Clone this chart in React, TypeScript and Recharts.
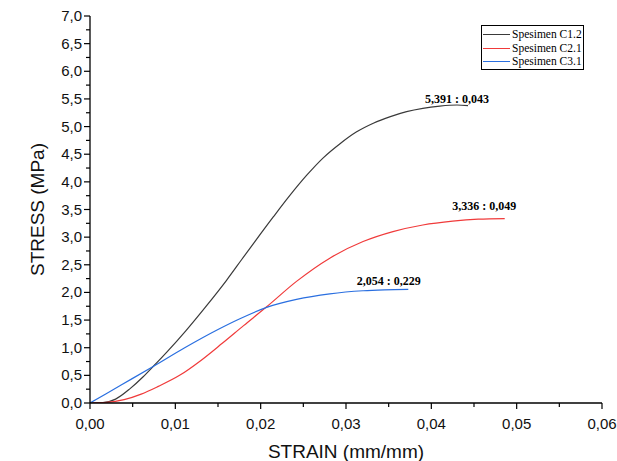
import { LineChart, Line, XAxis, YAxis, Legend, ReferenceDot, Label } from "recharts";

// 시편별 응력-변형률 곡선 (Origin 그래프 재현)
const SERIES_NAMES = ["Spesimen C1.2", "Spesimen C2.1", "Spesimen C3.1"];
const SERIES_COLORS = ["#3a3a3a", "#f03a3a", "#2a6fe0"];

const c12Strain = [0, 0.0015, 0.003, 0.0047, 0.0062, 0.0074, 0.009, 0.01125, 0.0135, 0.016, 0.0178, 0.0193, 0.0215, 0.0234, 0.0254, 0.0273, 0.0293, 0.0312, 0.0332, 0.0352, 0.0371, 0.039, 0.041, 0.043, 0.0443];
const c12Stress = [0, 0.005, 0.07, 0.26, 0.47, 0.66, 0.92, 1.31, 1.73, 2.22, 2.6, 2.915, 3.37, 3.75, 4.12, 4.43, 4.69, 4.9, 5.06, 5.18, 5.27, 5.33, 5.37, 5.39, 5.38];

const c21Strain = [0, 0.002, 0.004, 0.006, 0.008, 0.0105, 0.013, 0.0155, 0.018, 0.0207, 0.0242, 0.0281, 0.032, 0.0355, 0.039, 0.0425, 0.0455, 0.0486];
const c21Stress = [0, 0.01, 0.06, 0.16, 0.3, 0.5, 0.77, 1.08, 1.4, 1.74, 2.2, 2.62, 2.92, 3.1, 3.22, 3.29, 3.325, 3.336];

const c31Strain = [0, 0.0037, 0.0074, 0.0111, 0.015, 0.0175, 0.0207, 0.0242, 0.0281, 0.032, 0.0345, 0.0373];
const c31Stress = [0, 0.33, 0.66, 1.0, 1.33, 1.52, 1.73, 1.875, 1.975, 2.03, 2.046, 2.054];

// 피크 주석 (라벨 기준점: strain, stress)
const PEAK_LABELS = ["5,391 : 0,043", "3,336 : 0,049", "2,054 : 0,229"];
const PEAK_STRAIN = [0.043, 0.0462, 0.035];
const PEAK_STRESS = [5.435, 3.49, 2.143];

const X_TICKS = [0, 0.005, 0.01, 0.015, 0.02, 0.025, 0.03, 0.035, 0.04, 0.045, 0.05, 0.055, 0.06];
const Y_TICKS = [0, 0.25, 0.5, 0.75, 1, 1.25, 1.5, 1.75, 2, 2.25, 2.5, 2.75, 3, 3.25, 3.5, 3.75, 4, 4.25, 4.5, 4.75, 5, 5.25, 5.5, 5.75, 6, 6.25, 6.5, 6.75, 7];

const zip = (xs: number[], ys: number[]) => xs.map((x, i) => ({ x, y: ys[i] }));
const seriesData = [zip(c12Strain, c12Stress), zip(c21Strain, c21Stress), zip(c31Strain, c31Stress)];

const SANS = '"Liberation Sans", Arial, sans-serif';
const SERIF = '"Liberation Serif", "Times New Roman", serif';

function XTick(props: any) {
  const { x, y, payload, index } = props;
  const major = index % 2 === 0;
  return (
    <g>
      <line x1={x} x2={x} y1={y} y2={y + (major ? 6 : 4)} stroke="#000" strokeWidth={1.2} />
      {major && (
        <text x={x} y={y + 26} textAnchor="middle" fontSize={15} fontFamily={SANS} fill="#111">
          {payload.value.toFixed(2).replace(".", ",")}
        </text>
      )}
    </g>
  );
}

function YTick(props: any) {
  const { x, y, payload, index } = props;
  const major = index % 2 === 0;
  return (
    <g>
      <line x1={x} x2={x - (major ? 6 : 4)} y1={y} y2={y} stroke="#000" strokeWidth={1.2} />
      {major && (
        <text x={x - 8} y={y + 5} textAnchor="end" fontSize={15} fontFamily={SANS} fill="#111">
          {payload.value.toFixed(1).replace(".", ",")}
        </text>
      )}
    </g>
  );
}

function LegendBox() {
  return (
    <div
      style={{
        border: "1px solid #000",
        background: "#fff",
        padding: "2px 1px 0 1px",
        fontFamily: SERIF,
        fontSize: 11.5,
        lineHeight: "13.5px",
        color: "#000",
        whiteSpace: "nowrap",
      }}
    >
      {SERIES_NAMES.map((name, i) => (
        <div key={name} style={{ display: "flex", alignItems: "center" }}>
          <span
            style={{
              display: "inline-block",
              width: 27,
              height: 0,
              borderTop: `1.2px solid ${SERIES_COLORS[i]}`,
              marginRight: 2,
            }}
          />
          {name}
        </div>
      ))}
    </div>
  );
}

export default function App() {
  return (
    <div style={{ position: "absolute", left: 0, top: 0, background: "#fff" }}>
      <LineChart width={617} height={461} margin={{ top: 16, right: 15, bottom: 0, left: 0 }}>
        <XAxis
          type="number"
          dataKey="x"
          domain={[0, 0.06]}
          ticks={X_TICKS}
          interval={0}
          allowDataOverflow
          height={58}
          tickLine={false}
          tickSize={0}
          tickMargin={0}
          tick={<XTick />}
          axisLine={{ stroke: "#000", strokeWidth: 1.3 }}
        >
          <Label
            value="STRAIN (mm/mm)"
            position="insideBottom"
            offset={3}
            fontSize={19}
            fontFamily={SANS}
            fill="#111"
          />
        </XAxis>
        <YAxis
          type="number"
          dataKey="y"
          domain={[0, 7]}
          ticks={Y_TICKS}
          interval={0}
          allowDataOverflow
          width={90}
          tickLine={false}
          tickSize={0}
          tickMargin={0}
          tick={<YTick />}
          axisLine={{ stroke: "#000", strokeWidth: 1.3 }}
        >
          <Label
            value="STRESS (MPa)"
            angle={-90}
            position="insideLeft"
            offset={37}
            fontSize={19}
            fontFamily={SANS}
            fill="#111"
            style={{ textAnchor: "middle" }}
          />
        </YAxis>
        <Legend
          layout="vertical"
          align="center"
          verticalAlign="middle"
          wrapperStyle={{ top: 25, left: 481, width: "auto", height: "auto" }}
          content={() => <LegendBox />}
        />
        {seriesData.map((data, i) => (
          <Line
            key={SERIES_NAMES[i]}
            name={SERIES_NAMES[i]}
            data={data}
            dataKey="y"
            type="monotone"
            stroke={SERIES_COLORS[i]}
            strokeWidth={1.2}
            dot={false}
            activeDot={false}
            isAnimationActive={false}
          />
        ))}
        {PEAK_LABELS.map((text, i) => (
          <ReferenceDot
            key={text}
            x={PEAK_STRAIN[i]}
            y={PEAK_STRESS[i]}
            r={0}
            fill="none"
            stroke="none"
            label={{
              content: (p: any) => (
                <text
                  x={p.viewBox.x}
                  y={p.viewBox.y}
                  textAnchor="middle"
                  fontSize={12}
                  fontWeight="bold"
                  fontFamily={SERIF}
                  fill="#000"
                >
                  {text}
                </text>
              ),
            }}
          />
        ))}
      </LineChart>
    </div>
  );
}
